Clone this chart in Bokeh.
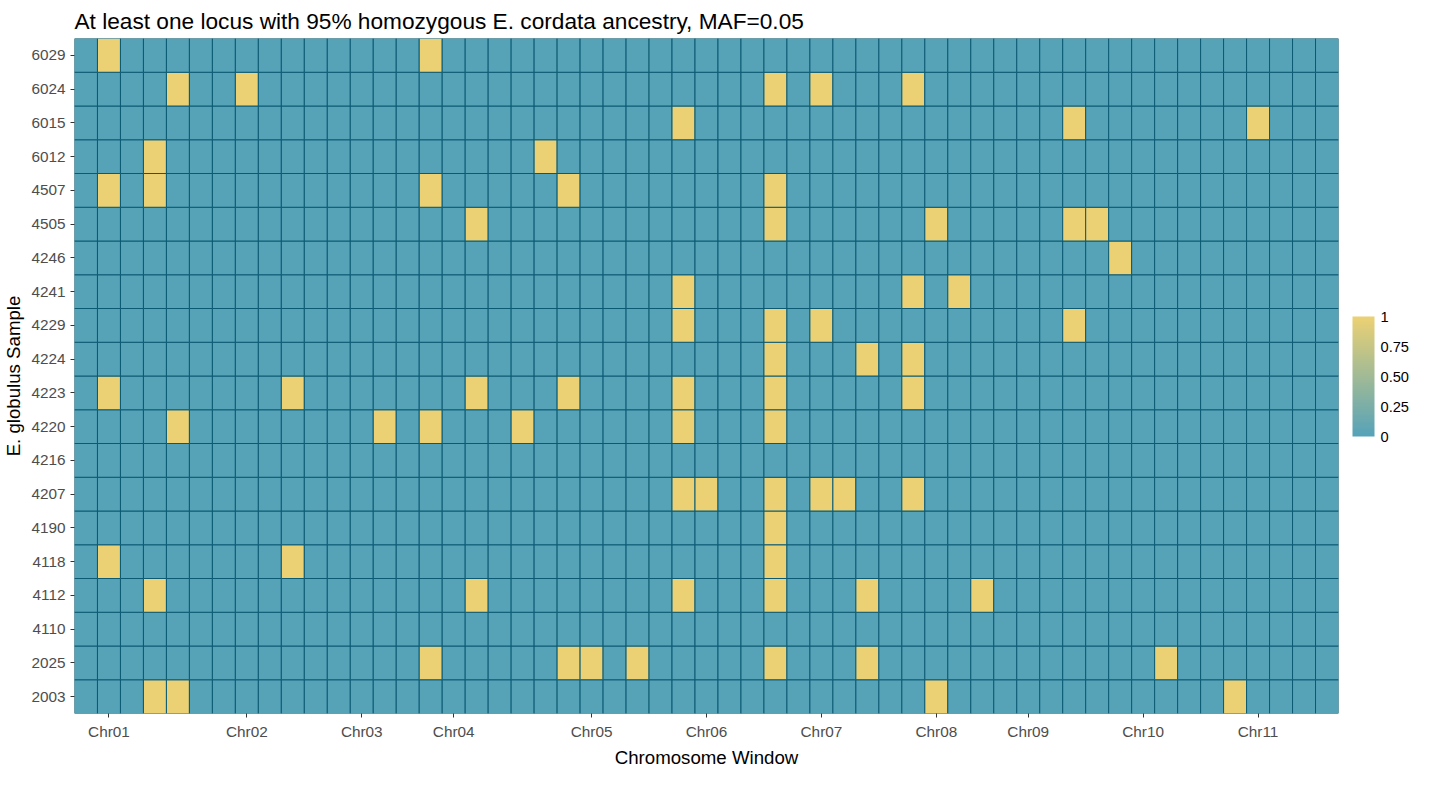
import numpy as np
from bokeh.plotting import figure
from bokeh.models import LinearColorMapper, ColorBar, FixedTicker, ColumnDataSource
from bokeh.embed import file_html
from bokeh.resources import INLINE

#samples, bottom to top
samples = ["2003", "2025", "4110", "4112", "4118", "4190", "4207", "4216", "4220", "4223",
           "4224", "4229", "4241", "4246", "4505", "4507", "6012", "6015", "6024", "6029"]
n_windows = 55
chr_labels = ["Chr01", "Chr02", "Chr03", "Chr04", "Chr05", "Chr06", "Chr07", "Chr08", "Chr09", "Chr10", "Chr11"]
chr_tick_windows = [2, 8, 13, 17, 23, 28, 33, 38, 42, 47, 52]

#windows (1-based) with value 1 for each sample
hits = {
    "6029": [2, 16],
    "6024": [5, 8, 31, 33, 37],
    "6015": [27, 44, 52],
    "6012": [4, 21],
    "4507": [2, 4, 16, 22, 31],
    "4505": [18, 31, 38, 44, 45],
    "4246": [46],
    "4241": [27, 37, 39],
    "4229": [27, 31, 33, 44],
    "4224": [31, 35, 37],
    "4223": [2, 10, 18, 22, 27, 31, 37],
    "4220": [5, 14, 16, 20, 27, 31],
    "4216": [],
    "4207": [27, 28, 31, 33, 34, 37],
    "4190": [31],
    "4118": [2, 10, 31],
    "4112": [4, 18, 27, 31, 35, 40],
    "4110": [],
    "2025": [16, 22, 23, 25, 31, 35, 48],
    "2003": [4, 5, 38, 51],
}

xs, ys, vals = [], [], []
for s in samples:
    for w in range(1, n_windows + 1):
        xs.append(w)
        ys.append(s)
        vals.append(1 if w in hits[s] else 0)
source = ColumnDataSource(dict(x=xs, y=ys, v=vals))

def blend(c1, c2, t):
    return "#%02x%02x%02x" % tuple(int(round(a + (b - a) * t)) for a, b in zip(c1, c2))

blue = (86, 163, 184)
yellow = (235, 209, 116)
palette = [blend(blue, yellow, t) for t in np.linspace(0, 1, 64)]
mapper = LinearColorMapper(palette=palette, low=0, high=1)

p = figure(width=1426, height=770, x_range=(0.5, n_windows + 0.5), y_range=samples,
           output_backend="svg", toolbar_location=None,
           title="At least one locus with 95% homozygous E. cordata ancestry, MAF=0.05",
           x_axis_label="Chromosome Window", y_axis_label="E. globulus Sample")
p.rect(x="x", y="y", width=1, height=1, source=source,
       fill_color={"field": "v", "transform": mapper}, line_color="#0b5a73", line_width=1)

p.title.text_font = "Liberation Sans"
p.title.text_font_size = "17pt"
p.title.text_font_style = "normal"
p.title.text_color = "black"
p.xaxis.ticker = FixedTicker(ticks=chr_tick_windows)
p.xaxis.major_label_overrides = {w: l for w, l in zip(chr_tick_windows, chr_labels)}
for ax in (p.xaxis, p.yaxis):
    ax.axis_line_color = None
    ax.major_tick_out = 4
    ax.major_tick_in = 0
    ax.minor_tick_out = 0
    ax.minor_tick_in = 0
    ax.major_tick_line_color = "#333333"
    ax.major_label_text_font = "Liberation Sans"
    ax.major_label_text_font_size = "11.5pt"
    ax.major_label_text_color = "#4d4d4d"
    ax.axis_label_text_font = "Liberation Sans"
    ax.axis_label_text_font_size = "14pt"
    ax.axis_label_text_font_style = "normal"
    ax.axis_label_text_color = "black"
    ax.axis_label_standoff = 4
p.xgrid.grid_line_color = None
p.ygrid.grid_line_color = None
p.outline_line_color = None
p.background_fill_color = "#ebebeb"
p.min_border_right = 10

cb = ColorBar(color_mapper=mapper, ticker=FixedTicker(ticks=[0, 0.25, 0.5, 0.75, 1]),
              major_label_overrides={0: "0", 0.25: "0.25", 0.5: "0.50", 0.75: "0.75", 1: "1"},
              width=22, height=120, label_standoff=6, major_tick_line_color=None,
              major_label_text_font="Liberation Sans", major_label_text_font_size="11pt",
              major_label_text_color="black", location="center",
              background_fill_color=None, border_line_color=None, padding=14)
p.add_layout(cb, "right")

open("out.html", "w").write(file_html(p, INLINE))
